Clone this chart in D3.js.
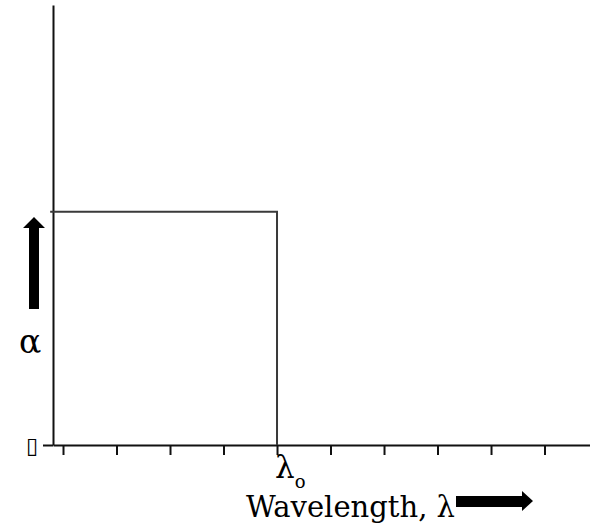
<!DOCTYPE html>
<html>
<head>
<meta charset="utf-8">
<script src="https://cdn.jsdelivr.net/npm/d3@7"></script>
<style>
  html, body { margin: 0; padding: 0; background: #fff; }
  svg { display: block; }
  .lbl { font-family: "DejaVu Serif", serif; fill: #000; }
</style>
</head>
<body>
<svg id="chart" width="590" height="527"></svg>
<script>
// Absorption edge: absorption coefficient is constant up to the edge wavelength, then drops to zero.
const xTicks = [0, 1, 2, 3, 4, 5, 6, 7, 8, 9];
const yTicks = [0];
const yTickLabels = ["\u25AF"];
const edgeWavelength = 4;        // λo
const alphaLevel = 0.53;         // α below the edge
const stepStart = -0.24;
const stepPoints = [
  [stepStart, alphaLevel],
  [edgeWavelength, alphaLevel],
  [edgeWavelength, 0]
];

const svg = d3.select("#chart");

const x = d3.scaleLinear().domain([-0.187, 9.85]).range([53, 590]);
const y = d3.scaleLinear().domain([0, 1]).range([445, 5]);

// x axis: unlabeled ticks hanging below the line
const gx = svg.append("g")
  .attr("transform", `translate(0,${y(0)})`)
  .call(d3.axisBottom(x).tickValues(xTicks).tickSize(10).tickSizeOuter(0).tickFormat(""));
gx.select(".domain").attr("stroke", "#111").attr("stroke-width", 2);
gx.selectAll(".tick line").attr("stroke", "#111").attr("stroke-width", 2);

// y axis: single tick at zero
const gy = svg.append("g")
  .attr("transform", `translate(${x(-0.187)},0)`)
  .call(d3.axisLeft(y).tickValues(yTicks).tickSize(10).tickSizeOuter(0).tickPadding(5)
    .tickFormat((d, i) => yTickLabels[i]));
gy.select(".domain").attr("stroke", "#111").attr("stroke-width", 2);
gy.selectAll(".tick line").attr("stroke", "#111").attr("stroke-width", 2);
gy.selectAll(".tick text")
  .attr("font-family", "DejaVu Sans")
  .attr("font-size", 22)
  .attr("font-weight", "bold")
  .attr("fill", "#000");

// step curve
const line = d3.line().x(d => x(d[0])).y(d => y(d[1]));
svg.append("path")
  .datum(stepPoints)
  .attr("d", line)
  .attr("fill", "none")
  .attr("stroke", "#3a3a3a")
  .attr("stroke-width", 2);

// edge label λo
const edgeLbl = svg.append("text").attr("class", "lbl")
  .attr("x", x(edgeWavelength) - 2).attr("y", 478)
  .attr("font-size", 31);
edgeLbl.append("tspan").text("λ");
edgeLbl.append("tspan").attr("font-size", 18).attr("dy", 10).text("o");

// axis titles
svg.append("text").attr("class", "lbl")
  .attr("x", 246).attr("y", 517)
  .attr("font-size", 29)
  .text("Wavelength, λ");

svg.append("text").attr("class", "lbl")
  .attr("x", 19).attr("y", 353)
  .attr("font-size", 33)
  .text("α");

// direction arrows
svg.append("path")
  .attr("d", "M29,309 L29,228 L23,228 L34,217 L45,228 L39,228 L39,309 Z")
  .attr("fill", "#000");
svg.append("path")
  .attr("d", "M456,496 L522,496 L522,491 L533,501 L522,511 L522,507 L456,507 Z")
  .attr("fill", "#000");
</script>
</body>
</html>
